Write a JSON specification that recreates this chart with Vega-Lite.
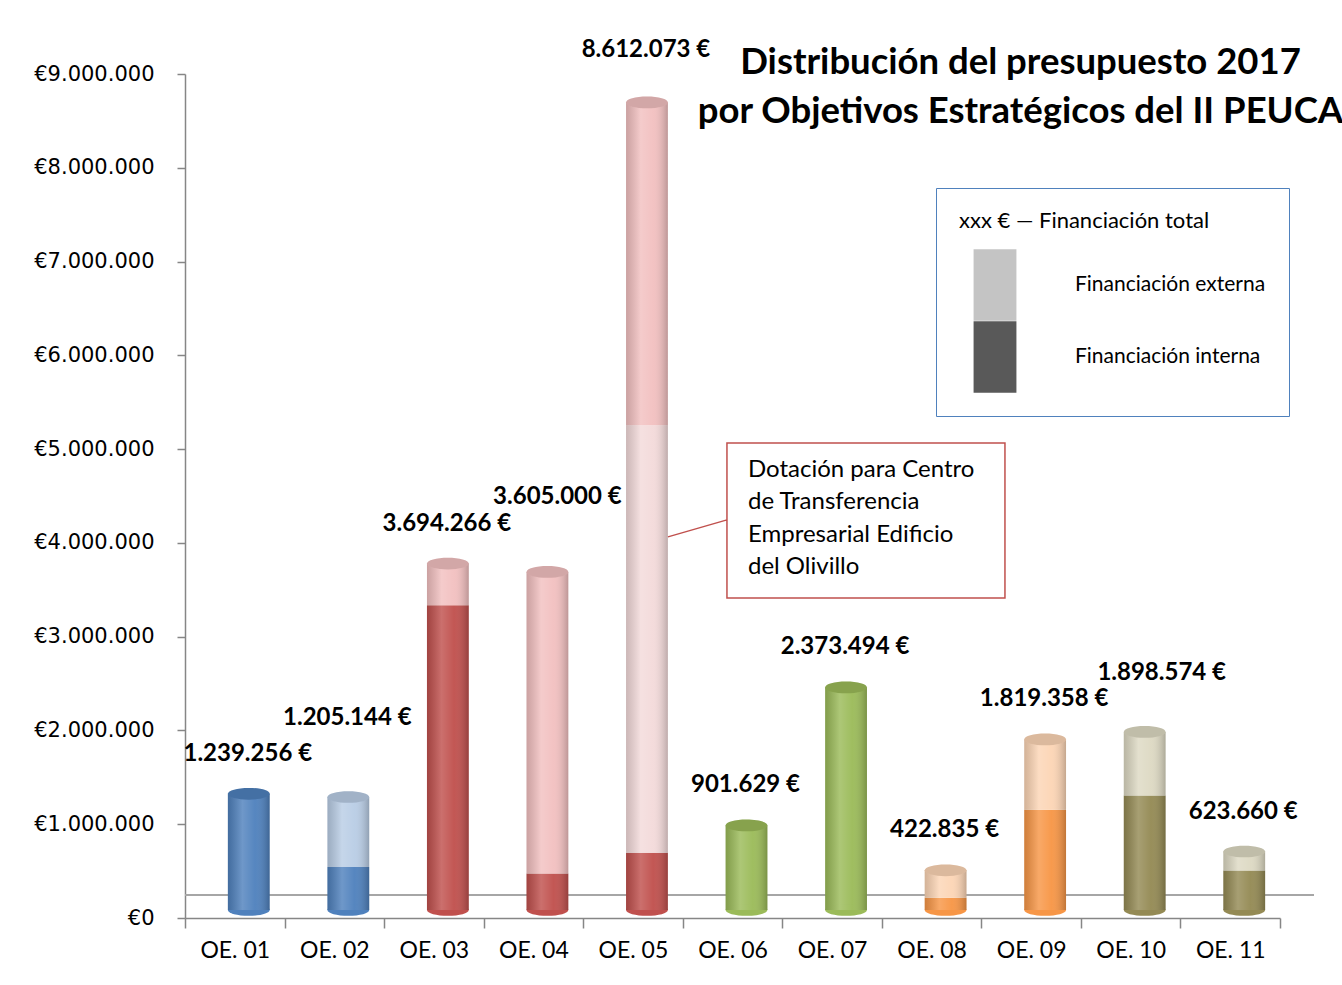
{
  "$schema": "https://vega.github.io/schema/vega-lite/v6.json",
  "width": 1095,
  "height": 844,
  "autosize": "none",
  "padding": {"left": 185, "top": 74, "right": 62, "bottom": 67},
  "background": "white",
  "config": {
    "view": {"stroke": null},
    "font": "Lato",
    "locale": {"number": {"decimal": ",", "thousands": ".", "grouping": [3], "currency": ["€", ""]}},
    "axisX": {
      "title": null,
      "labelAngle": 0,
      "labelFont": "Lato",
      "labelFontSize": 23,
      "labelColor": "#000000",
      "labelPadding": 11,
      "tickBand": "extent",
      "tickSize": 10,
      "tickColor": "#868686",
      "domainColor": "#868686",
      "domainWidth": 1.5,
      "tickWidth": 1.5
    },
    "axisY": {
      "title": null,
      "labelFont": "DejaVu Sans",
      "labelFontSize": 21,
      "labelColor": "#000000",
      "labelPadding": 23,
      "tickSize": 8,
      "tickColor": "#868686",
      "domainColor": "#868686",
      "domainWidth": 1.5,
      "tickWidth": 1.5,
      "grid": false
    }
  },
  "title": {
    "text": ["Distribución del presupuesto 2017", "por Objetivos Estratégicos del II PEUCA"],
    "font": "Lato",
    "fontSize": 36.5,
    "fontWeight": "bold",
    "color": "#000000",
    "anchor": "middle",
    "frame": "group",
    "offset": 0,
    "dx": 288,
    "dy": 92,
    "lineHeight": 49
  },
  "datasets": {
    "segmentos": [
      {"oe": "OE. 01", "tipo": "interna", "valor": 1239256},
      {"oe": "OE. 02", "tipo": "interna", "valor": 458000},
      {"oe": "OE. 02", "tipo": "externa", "valor": 747144},
      {"oe": "OE. 03", "tipo": "interna", "valor": 3250000},
      {"oe": "OE. 03", "tipo": "externa", "valor": 444266},
      {"oe": "OE. 04", "tipo": "interna", "valor": 390000},
      {"oe": "OE. 04", "tipo": "externa", "valor": 3215000},
      {"oe": "OE. 05", "tipo": "interna", "valor": 610000},
      {"oe": "OE. 05", "tipo": "olivillo", "valor": 4560000},
      {"oe": "OE. 05", "tipo": "externa", "valor": 3442073},
      {"oe": "OE. 06", "tipo": "interna", "valor": 901629},
      {"oe": "OE. 07", "tipo": "interna", "valor": 2373494},
      {"oe": "OE. 08", "tipo": "interna", "valor": 130000},
      {"oe": "OE. 08", "tipo": "externa", "valor": 292835},
      {"oe": "OE. 09", "tipo": "interna", "valor": 1070000},
      {"oe": "OE. 09", "tipo": "externa", "valor": 749358},
      {"oe": "OE. 10", "tipo": "interna", "valor": 1220000},
      {"oe": "OE. 10", "tipo": "externa", "valor": 678574},
      {"oe": "OE. 11", "tipo": "interna", "valor": 420000},
      {"oe": "OE. 11", "tipo": "externa", "valor": 203660}
    ],
    "totales": [
      {"oe": "OE. 01", "total": 1239256, "etiqueta": "1.239.256 €"},
      {"oe": "OE. 02", "total": 1205144, "etiqueta": "1.205.144 €"},
      {"oe": "OE. 03", "total": 3694266, "etiqueta": "3.694.266 €"},
      {"oe": "OE. 04", "total": 3605000, "etiqueta": "3.605.000 €"},
      {"oe": "OE. 05", "total": 8612073, "etiqueta": "8.612.073 €"},
      {"oe": "OE. 06", "total": 901629, "etiqueta": "901.629 €"},
      {"oe": "OE. 07", "total": 2373494, "etiqueta": "2.373.494 €"},
      {"oe": "OE. 08", "total": 422835, "etiqueta": "422.835 €"},
      {"oe": "OE. 09", "total": 1819358, "etiqueta": "1.819.358 €"},
      {"oe": "OE. 10", "total": 1898574, "etiqueta": "1.898.574 €"},
      {"oe": "OE. 11", "total": 623660, "etiqueta": "623.660 €"}
    ],
    "notas": [
      {"oe": "OE. 05", "valor": 4000000, "texto": "Dotación para Centro\nde Transferencia\nEmpresarial Edificio\ndel Olivillo"}
    ]
  },
  "layer": [
    {
      "data": {"values": [{}]},
      "mark": {"type": "rule", "color": "#A6A6A6", "strokeWidth": 2, "xOffset": 34, "x2Offset": 34},
      "encoding": {"y": {"datum": 245000, "type": "quantitative"}}
    },
    {
      "data": {"name": "segmentos"},
      "transform": [
        {"calculate": "datum.oe + ' ' + datum.tipo", "as": "k"},
        {"calculate": "indexof(['interna','olivillo','externa'], datum.tipo)", "as": "ord"}
      ],
      "mark": {"type": "bar", "width": {"band": 0.42}, "xOffset": 14, "x2Offset": 14, "yOffset": -8, "y2Offset": -8},
      "encoding": {
        "x": {"field": "oe", "type": "nominal", "sort": null, "scale": {"paddingInner": 0, "paddingOuter": 0}},
        "y": {
          "field": "valor",
          "type": "quantitative",
          "stack": "zero",
          "scale": {"domain": [0, 9000000], "nice": false},
          "axis": {
            "values": [0, 1000000, 2000000, 3000000, 4000000, 5000000, 6000000, 7000000, 8000000, 9000000],
            "format": "$,.0f"
          }
        },
        "color": {
          "field": "k",
          "type": "nominal",
          "legend": null,
          "scale": {
            "domain": ["OE. 01 interna", "OE. 02 interna", "OE. 02 externa", "OE. 03 interna", "OE. 03 externa", "OE. 04 interna", "OE. 04 externa", "OE. 05 interna", "OE. 05 olivillo", "OE. 05 externa", "OE. 06 interna", "OE. 07 interna", "OE. 08 interna", "OE. 08 externa", "OE. 09 interna", "OE. 09 externa", "OE. 10 interna", "OE. 10 externa", "OE. 11 interna", "OE. 11 externa"],
            "range": ["#4F81BD", "#4F81BD", "#B9CDE5", "#C0504D", "#F2C0C0", "#C0504D", "#F2C0C0", "#C0504D", "#F3DADA", "#F2C0C0", "#9BBB59", "#9BBB59", "#F79646", "#FCD5B5", "#F79646", "#FCD5B5", "#948A54", "#DDD9C3", "#948A54", "#DDD9C3"]
          }
        },
        "order": {"field": "ord", "type": "quantitative"}
      }
    },
    {
      "data": {"name": "segmentos"},
      "transform": [
        {"filter": "datum.tipo === 'interna'"},
        {"calculate": "datum.oe + ' ' + datum.tipo", "as": "k"}
      ],
      "mark": {
        "type": "point",
        "shape": "M-1,0 A1,0.28 0 1,0 1,0 A1,0.28 0 1,0 -1,0 Z",
        "size": 1747,
        "filled": true,
        "opacity": 1,
        "xOffset": 14,
        "yOffset": -8
      },
      "encoding": {
        "x": {"field": "oe", "type": "nominal", "sort": null},
        "y": {"datum": 0, "type": "quantitative"},
        "color": {"field": "k", "type": "nominal", "legend": null}
      }
    },
    {
      "data": {"name": "segmentos"},
      "transform": [
        {"calculate": "indexof(['interna','olivillo','externa'], datum.tipo)", "as": "ord"}
      ],
      "mark": {
        "type": "bar",
        "width": {"band": 0.42},
        "xOffset": 14, "x2Offset": 14, "yOffset": -8, "y2Offset": -8,
        "fill": {
          "gradient": "linear", "x1": 0, "y1": 0, "x2": 1, "y2": 0,
          "stops": [
            {"offset": 0, "color": "rgba(0,0,0,0.16)"},
            {"offset": 0.35, "color": "rgba(255,255,255,0.18)"},
            {"offset": 0.65, "color": "rgba(255,255,255,0.04)"},
            {"offset": 1, "color": "rgba(0,0,0,0.22)"}
          ]
        }
      },
      "encoding": {
        "x": {"field": "oe", "type": "nominal", "sort": null},
        "y": {"field": "valor", "type": "quantitative", "stack": "zero"},
        "detail": {"field": "tipo"},
        "order": {"field": "ord", "type": "quantitative"}
      }
    },
    {
      "data": {"name": "segmentos"},
      "transform": [
        {"calculate": "datum.oe + ' ' + datum.tipo", "as": "k"},
        {"calculate": "indexof(['interna','olivillo','externa'], datum.tipo)", "as": "ord"},
        {"joinaggregate": [{"op": "max", "field": "ord", "as": "maxord"}, {"op": "sum", "field": "valor", "as": "suma"}], "groupby": ["oe"]},
        {"filter": "datum.ord === datum.maxord"}
      ],
      "mark": {
        "type": "point",
        "shape": "M-1,0 A1,0.28 0 1,0 1,0 A1,0.28 0 1,0 -1,0 Z",
        "size": 1747,
        "filled": true,
        "opacity": 1,
        "xOffset": 14,
        "yOffset": -8
      },
      "encoding": {
        "x": {"field": "oe", "type": "nominal", "sort": null},
        "y": {"field": "suma", "type": "quantitative"},
        "color": {"field": "k", "type": "nominal", "legend": null}
      }
    },
    {
      "data": {"name": "totales"},
      "mark": {
        "type": "point",
        "shape": "M-1,0 A1,0.28 0 1,0 1,0 A1,0.28 0 1,0 -1,0 Z",
        "size": 1747,
        "filled": true,
        "color": "#000000",
        "opacity": 0.13,
        "xOffset": 14,
        "yOffset": -8
      },
      "encoding": {
        "x": {"field": "oe", "type": "nominal", "sort": null},
        "y": {"field": "total", "type": "quantitative"}
      }
    },
    {
      "data": {"name": "segmentos"},
      "transform": [{"filter": "datum.tipo !== 'olivillo'"}],
      "mark": {"type": "point", "opacity": 0, "filled": true},
      "encoding": {
        "x": {"field": "oe", "type": "nominal", "sort": null},
        "y": {"field": "valor", "type": "quantitative"},
        "fill": {
          "field": "tipo",
          "type": "nominal",
          "scale": {"domain": ["externa", "interna"], "range": ["#C4C4C4", "#595959"]},
          "legend": {
            "orient": "none",
            "legendX": 751,
            "legendY": 114,
            "direction": "vertical",
            "title": "xxx €  —  Financiación total",
            "titleFont": "Lato",
            "titleFontSize": 22,
            "titleFontWeight": "normal",
            "titleColor": "#000000",
            "titlePadding": 16,
            "titleLimit": 500,
            "padding": 23,
            "strokeColor": "#4F81BD",
            "fillColor": "white",
            "symbolType": "M-0.6,-1 L0.6,-1 L0.6,1 L-0.6,1 Z",
            "symbolSize": 5100,
            "symbolOpacity": 1,
            "symbolStrokeWidth": 0,
            "rowPadding": 0,
            "labelFont": "Lato",
            "labelFontSize": 21,
            "labelColor": "#000000",
            "labelOffset": 44,
            "labelLimit": 500,
            "labelExpr": "datum.label === 'externa' ? 'Financiación externa' : 'Financiación interna'"
          }
        }
      }
    },
    {
      "data": {"name": "totales"},
      "mark": {
        "type": "text",
        "font": "Lato",
        "fontSize": 24,
        "fontWeight": "bold",
        "color": "#000000",
        "baseline": "middle",
        "dx": {"expr": "datum.oe === 'OE. 10' ? 31 : datum.oe === 'OE. 04' ? 24 : 13"},
        "dy": {"expr": "datum.oe === 'OE. 02' ? -87 : datum.oe === 'OE. 04' ? -83 : datum.oe === 'OE. 10' ? -67 : datum.oe === 'OE. 05' ? -60 : -48"}
      },
      "encoding": {
        "x": {"field": "oe", "type": "nominal", "sort": null},
        "y": {"field": "total", "type": "quantitative"},
        "text": {"field": "etiqueta"}
      }
    },
    {
      "data": {"name": "notas"},
      "mark": {
        "type": "point",
        "shape": "M0.21,0 L0.8,-0.17 M0.8,-0.94 L3.58,-0.94 L3.58,0.61 L0.8,0.61 Z",
        "size": 40000,
        "filled": false,
        "fill": "white",
        "fillOpacity": 1,
        "stroke": "#C0504D",
        "strokeWidth": 1.5,
        "opacity": 1,
        "xOffset": 14,
        "yOffset": -6
      },
      "encoding": {
        "x": {"field": "oe", "type": "nominal", "sort": null},
        "y": {"field": "valor", "type": "quantitative"}
      }
    },
    {
      "data": {"name": "notas"},
      "mark": {
        "type": "text",
        "font": "Lato",
        "fontSize": 24,
        "color": "#000000",
        "align": "left",
        "baseline": "top",
        "lineBreak": "\n",
        "lineHeight": 32.5,
        "xOffset": 14,
        "yOffset": -6,
        "dx": 101,
        "dy": -79
      },
      "encoding": {
        "x": {"field": "oe", "type": "nominal", "sort": null},
        "y": {"field": "valor", "type": "quantitative"},
        "text": {"field": "texto"}
      }
    }
  ]
}
